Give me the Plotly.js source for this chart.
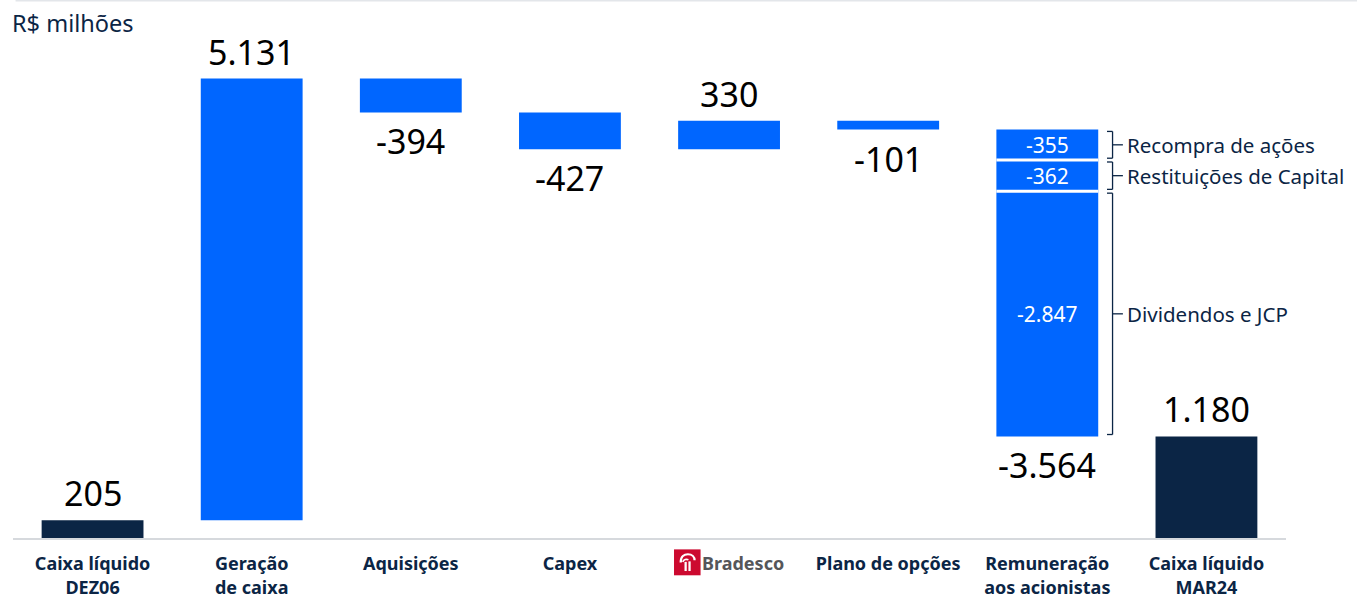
<!DOCTYPE html>
<html>
<head>
<meta charset="utf-8">
<script src="https://cdn.plot.ly/plotly-3.0.1.min.js"></script>
<style>html,body{margin:0;padding:0;background:#fff;}#chart{width:1357px;height:597px;}</style>
</head>
<body>
<div id="chart"></div>
<script>
// ---- data ----
const categories = ['Caixa líquido<br>DEZ06', 'Geração<br>de caixa', 'Aquisições', 'Capex', 'Bradesco', 'Plano de opções', 'Remuneração<br>aos acionistas', 'Caixa líquido<br>MAR24'];
const values = [205, 5131, -394, -427, 330, -101, -3564, 1180];
const measures = ['total', 'relative', 'relative', 'relative', 'relative', 'relative', 'split', 'total'];
const splitValues = [-355, -362, -2847];
const splitLabels = ['Recompra de ações', 'Restituições de Capital', 'Dividendos e JCP'];
const unitLabel = 'R$ milhões';

// ---- styling ----
const NAVY = '#0B2545';
const BLUE = '#0066FF';
const W = 0.64;

function fmt(v) {
  const s = Math.abs(v).toString().replace(/\B(?=(\d{3})+(?!\d))/g, '.');
  return (v < 0 ? '-' : '') + s;
}

const tot = {x: [], y: [], base: []};
const step = {x: [], y: [], base: []};
const seg = {x: [], y: [], base: []};
const annotations = [];
const shapes = [];
let running = 0;

categories.forEach((c, i) => {
  const v = values[i];
  let lo, hi;
  if (measures[i] === 'total') {
    tot.x.push(c); tot.y.push(v); tot.base.push(0);
    running = v; lo = 0; hi = v;
  } else if (measures[i] === 'relative') {
    step.x.push(c); step.y.push(v); step.base.push(running);
    lo = Math.min(running, running + v); hi = Math.max(running, running + v);
    running += v;
  } else {
    const start = running;
    splitValues.forEach((s, j) => {
      const top = running, bot = running + s;
      seg.x.push(c); seg.y.push(s); seg.base.push(top);
      annotations.push({x: i, y: (top + bot) / 2, xref: 'x', yref: 'y', text: fmt(s), showarrow: false,
        font: {size: 21, color: '#ffffff'}});
      if (j > 0) shapes.push({type: 'line', xref: 'x', yref: 'y', x0: i - W / 2, x1: i + W / 2, y0: top, y1: top,
        line: {color: '#ffffff', width: 3}, layer: 'above'});
      const ins = 22, bx = i + 0.41, t = top - ins, b = bot + ins, m = (top + bot) / 2;
      const ln = {color: NAVY, width: 1.3};
      shapes.push({type: 'line', xref: 'x', yref: 'y', x0: bx, x1: bx, y0: t, y1: b, line: ln});
      shapes.push({type: 'line', xref: 'x', yref: 'y', x0: bx - 0.035, x1: bx, y0: t, y1: t, line: ln});
      shapes.push({type: 'line', xref: 'x', yref: 'y', x0: bx - 0.035, x1: bx, y0: b, y1: b, line: ln});
      shapes.push({type: 'line', xref: 'x', yref: 'y', x0: bx, x1: bx + 0.065, y0: m, y1: m, line: ln});
      annotations.push({x: bx + 0.08, y: m, xref: 'x', yref: 'y', text: splitLabels[j], showarrow: false,
        xanchor: 'left', font: {size: 20.5, color: NAVY}});
      running = bot;
    });
    lo = running; hi = start;
  }
  const up = v >= 0;
  annotations.push({x: i, y: up ? hi : lo, xref: 'x', yref: 'y', text: fmt(v), showarrow: false,
    yanchor: up ? 'bottom' : 'top', yshift: up ? 2 : -4, font: {size: 34, color: '#000000'}});
});

const common = {type: 'bar', width: W, hoverinfo: 'skip'};
const traces = [
  Object.assign({}, common, {x: step.x, y: step.y, base: step.base, marker: {color: BLUE, line: {width: 0}}}),
  Object.assign({}, common, {x: seg.x, y: seg.y, base: seg.base, marker: {color: BLUE, line: {width: 0}}}),
  Object.assign({}, common, {x: tot.x, y: tot.y, base: tot.base, marker: {color: NAVY, line: {width: 0}}})
];

annotations.push({xref: 'paper', yref: 'paper', x: -0.002, y: 1.05, xanchor: 'left', yanchor: 'top',
  text: unitLabel, showarrow: false, font: {size: 23.5, color: NAVY}});

shapes.push({type: 'line', xref: 'paper', yref: 'paper', x0: 0.002, x1: 1.06, y0: 1.058, y1: 1.058,
  line: {color: '#e3e6ea', width: 2}});

const iconSvg = "<svg xmlns='http://www.w3.org/2000/svg' width='26' height='26' viewBox='0 0 26 26'>" +
  "<rect width='26' height='26' fill='#CC092F'/>" +
  "<path d='M6.5 13 C6.5 7 10 5 13.5 5 C17.5 5 20 7.5 20 11' stroke='white' stroke-width='2.2' fill='none'/>" +
  "<path d='M8.5 12.5 C9.5 10 12 9.5 14 10.5' stroke='white' stroke-width='1.6' fill='none'/>" +
  "<rect x='10.2' y='12.5' width='2.2' height='9' fill='white'/>" +
  "<rect x='14' y='12' width='2.2' height='9.5' fill='white'/></svg>";

const ticktext = categories.map(c => c === 'Bradesco'
  ? '\u00a0\u00a0\u00a0\u00a0\u00a0\u00a0<span style="color:#55565a">Bradesco</span>' : c);

const layout = {
  width: 1357, height: 597,
  margin: {l: 13, r: 71, t: 30, b: 59},
  paper_bgcolor: '#ffffff', plot_bgcolor: '#ffffff',
  font: {family: '"Noto Sans", "Open Sans", sans-serif', color: NAVY},
  barmode: 'overlay',
  showlegend: false,
  xaxis: {
    type: 'category', categoryorder: 'array', categoryarray: categories,
    range: [-0.5, 7.5], tickmode: 'array',
    tickvals: categories, ticktext: ticktext,
    showline: true, linecolor: '#d6d9dd', linewidth: 1.5,
    showgrid: false, zeroline: false, ticks: '', ticklabelstandoff: 9,
    tickfont: {size: 18, color: NAVY, weight: 700}, fixedrange: true
  },
  yaxis: {range: [0, 5900], visible: false, showgrid: false, zeroline: false, fixedrange: true},
  annotations: annotations,
  shapes: shapes,
  images: [{
    source: 'data:image/svg+xml;charset=utf-8,' + encodeURIComponent(iconSvg),
    xref: 'x', yref: 'paper', x: 4 - 0.346, y: -0.022, sizex: 0.168, sizey: 0.052,
    xanchor: 'left', yanchor: 'top', sizing: 'stretch', layer: 'above'
  }]
};

Plotly.newPlot('chart', traces, layout, {displayModeBar: false, staticPlot: true});
</script>
</body>
</html>
